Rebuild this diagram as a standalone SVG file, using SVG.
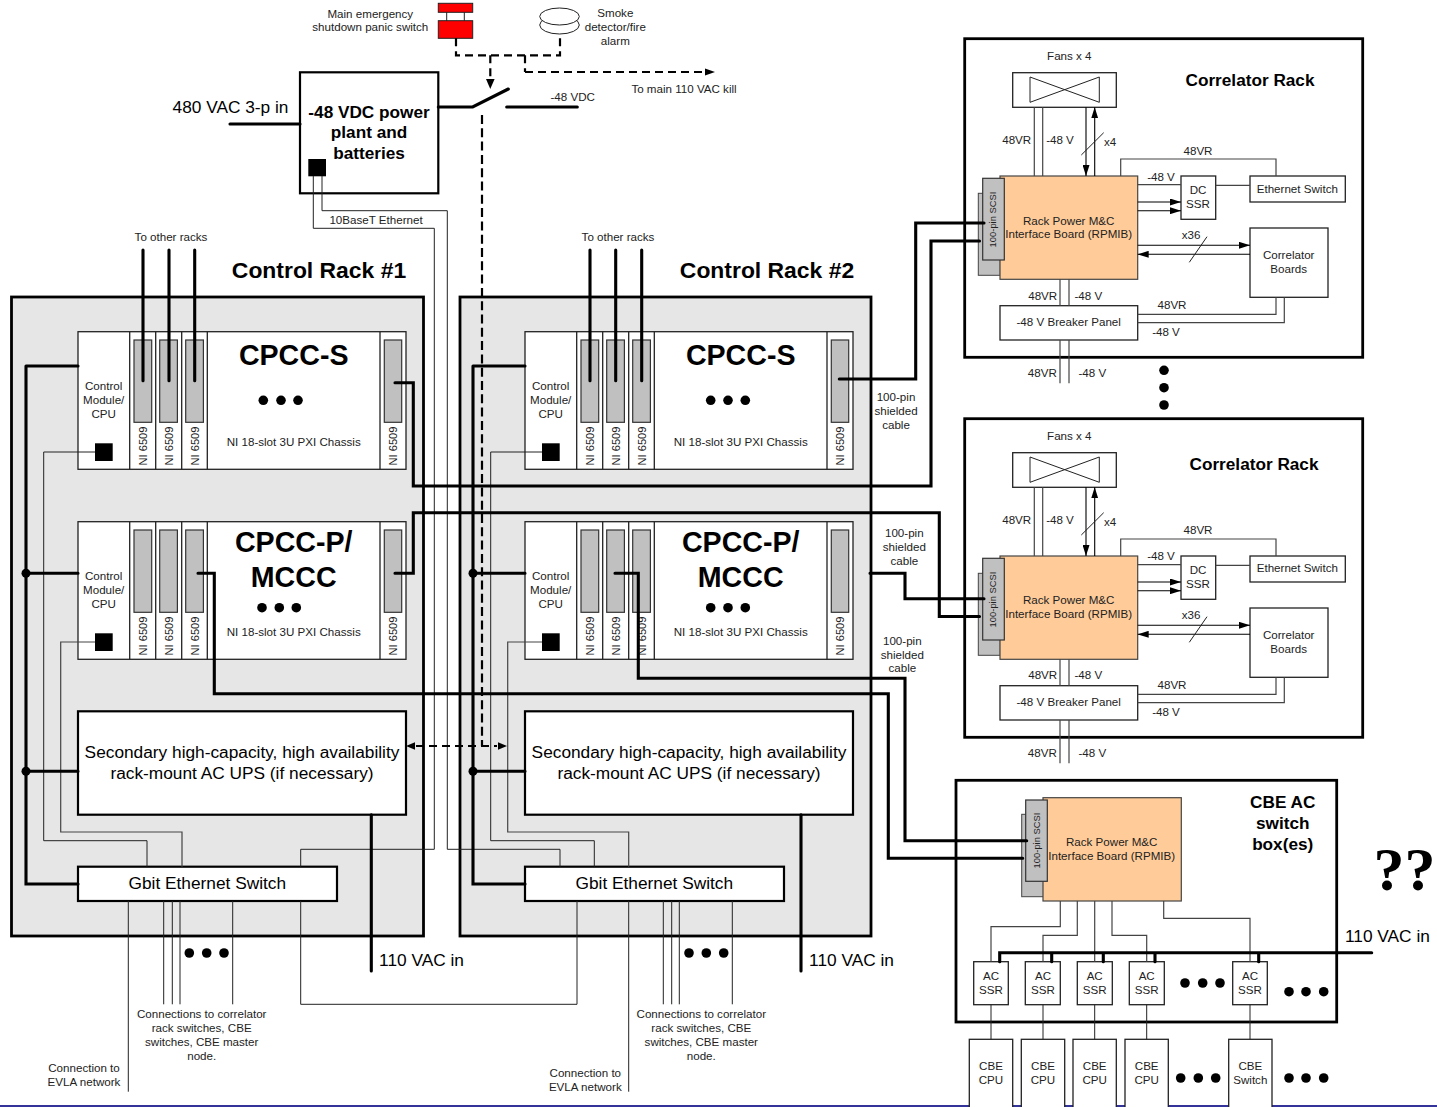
<svg xmlns="http://www.w3.org/2000/svg" width="1437" height="1107" viewBox="0 0 1437 1107">
<style>
text{font-family:"Liberation Sans",Arial,sans-serif;fill:#000;text-anchor:middle}
.s{font-size:11.6px;fill:#222}
.n{font-size:11.1px;fill:#222}
.p{font-size:9.4px;fill:#222}
.m{font-size:17.3px}
.t{font-size:17.2px;font-weight:bold}
.h{font-size:22.9px;font-weight:bold}
.c{font-size:28.6px;font-weight:bold}
.st{text-anchor:start}
.box{fill:#fff;stroke:#222;stroke-width:1.3}
.bx2{fill:#fff;stroke:#000;stroke-width:2.2}
.fr{fill:#fff;stroke:#000;stroke-width:2.8}
.rack{fill:#e6e6e6;stroke:#000;stroke-width:2.8}
.card{fill:#c0c0c0;stroke:#333;stroke-width:1.2}
.org{fill:#ffcc99;stroke:#444;stroke-width:1.2}
.w{fill:none;stroke:#222;stroke-width:1}
.g{fill:none;stroke:#444;stroke-width:1.2}
.k{fill:none;stroke:#000;stroke-width:3.1;stroke-linecap:round}
.d{fill:none;stroke:#000;stroke-width:2.2;stroke-dasharray:8 5}
.dv{fill:none;stroke:#000;stroke-width:2.2;stroke-dasharray:9 4.3}
.a{fill:none;stroke:#000;stroke-width:1.1;marker-end:url(#ar)}
</style>
<defs>
<marker id="ar" markerWidth="11" markerHeight="7" refX="11" refY="3.5" orient="auto" markerUnits="userSpaceOnUse"><path d="M0 0L11 3.5L0 7Z" fill="#000"/></marker>
</defs>
<rect width="1437" height="1107" fill="#fff"/>
<rect x="0" y="1105" width="1437" height="2" fill="#333399"/>

<g id="control-rack-1-frame"><rect class="rack" x="11.5" y="297" width="412" height="639"/></g>
<g id="control-rack-2-frame"><rect class="rack" x="460" y="297" width="411" height="639"/></g>
<g id="rack-titles"><text class="h" x="319" y="278">Control Rack #1</text><text class="h" x="767" y="278">Control Rack #2</text></g>

<g id="panic-switch">
<path class="w" d="M446.7 12V21M464.3 12V21"/>
<rect x="438.3" y="3.3" width="34.4" height="9" fill="#f00" stroke="#222"/>
<rect x="438.3" y="20.7" width="34.4" height="17.6" fill="#f00" stroke="#222"/>
<text class="s" x="370.3" y="18.3">Main emergency</text><text class="s" x="370.3" y="31">shutdown panic switch</text>
</g>
<g id="smoke-detector">
<ellipse cx="559.5" cy="25" rx="19.8" ry="9" fill="#fff" stroke="#222"/>
<ellipse cx="559.5" cy="16.5" rx="19.8" ry="8.5" fill="#fff" stroke="#222"/>
<text class="s" x="615.3" y="17">Smoke</text><text class="s" x="615.3" y="31">detector/fire</text><text class="s" x="615.3" y="45">alarm</text>
</g>
<g id="power-plant">
<rect class="bx2" x="300" y="72.3" width="138.3" height="121"/>
<rect x="308.3" y="159" width="17.7" height="17.3" fill="#000"/>
<text class="t" x="369" y="118">-48 VDC power</text><text class="t" x="369" y="138.3">plant and</text><text class="t" x="369" y="158.7">batteries</text>
</g>

<g id="chassis-s-1">
<rect class="box" x="78" y="331.7" width="328" height="137.6"/>
<path class="box" d="M129.7 331.7V469.3M155.7 331.7V469.3M181.7 331.7V469.3M207.3 331.7V469.3M380 331.7V469.3"/>
<rect class="card" x="134" y="340" width="17.7" height="82.3"/><rect class="card" x="159.7" y="340" width="17.7" height="82.3"/><rect class="card" x="185.7" y="340" width="17.7" height="82.3"/><rect class="card" x="384.3" y="340" width="17.4" height="82.3"/>
<rect x="95" y="443.3" width="17.7" height="17.7" fill="#000"/>
<text class="s" x="103.7" y="390">Control</text><text class="s" x="103.7" y="404">Module/</text><text class="s" x="103.7" y="418">CPU</text>
<text class="n" transform="translate(146.7 446) rotate(-90)">NI 6509</text><text class="n" transform="translate(172.5 446) rotate(-90)">NI 6509</text><text class="n" transform="translate(198.5 446) rotate(-90)">NI 6509</text><text class="n" transform="translate(397 446) rotate(-90)">NI 6509</text>
<text class="c" x="293.7" y="365">CPCC-S</text>
<circle cx="263.3" cy="400.3" r="4.8"/><circle cx="281" cy="400.3" r="4.8"/><circle cx="298" cy="400.3" r="4.8"/>
<text class="s" x="293.7" y="446">NI 18-slot 3U PXI Chassis</text>
</g>
<g id="chassis-p-1">
<rect class="box" x="78" y="521.7" width="328" height="137.6"/>
<path class="box" d="M129.7 521.7V659.3M155.7 521.7V659.3M181.7 521.7V659.3M207.3 521.7V659.3M380 521.7V659.3"/>
<rect class="card" x="134" y="530" width="17.7" height="82.3"/><rect class="card" x="159.7" y="530" width="17.7" height="82.3"/><rect class="card" x="185.7" y="530" width="17.7" height="82.3"/><rect class="card" x="384.3" y="530" width="17.4" height="82.3"/>
<rect x="95" y="633.3" width="17.7" height="17.7" fill="#000"/>
<text class="s" x="103.7" y="580">Control</text><text class="s" x="103.7" y="594">Module/</text><text class="s" x="103.7" y="608">CPU</text>
<text class="n" transform="translate(146.7 636) rotate(-90)">NI 6509</text><text class="n" transform="translate(172.5 636) rotate(-90)">NI 6509</text><text class="n" transform="translate(198.5 636) rotate(-90)">NI 6509</text><text class="n" transform="translate(397 636) rotate(-90)">NI 6509</text>
<text class="c" x="293.7" y="552.3">CPCC-P/</text><text class="c" x="293.7" y="587.3">MCCC</text>
<circle cx="262" cy="607.7" r="4.8"/><circle cx="279.3" cy="607.7" r="4.8"/><circle cx="296.3" cy="607.7" r="4.8"/>
<text class="s" x="293.7" y="636">NI 18-slot 3U PXI Chassis</text>
</g>
<g id="ups-1"><rect class="bx2" x="78" y="711.3" width="328" height="103.4"/><text class="m" x="242" y="758">Secondary high-capacity, high availability</text><text class="m" x="242" y="779">rack-mount AC UPS (if necessary)</text></g>
<g id="switch-1"><rect class="bx2" x="78" y="866.7" width="259" height="34.3"/><text class="m" x="207.3" y="889.3">Gbit Ethernet Switch</text></g>

<g id="chassis-s-2">
<rect class="box" x="525" y="331.7" width="328" height="137.6"/>
<path class="box" d="M576.7 331.7V469.3M602.7 331.7V469.3M628.7 331.7V469.3M654.3 331.7V469.3M827 331.7V469.3"/>
<rect class="card" x="581" y="340" width="17.7" height="82.3"/><rect class="card" x="606.7" y="340" width="17.7" height="82.3"/><rect class="card" x="632.7" y="340" width="17.7" height="82.3"/><rect class="card" x="831.3" y="340" width="17.4" height="82.3"/>
<rect x="542" y="443.3" width="17.7" height="17.7" fill="#000"/>
<text class="s" x="550.7" y="390">Control</text><text class="s" x="550.7" y="404">Module/</text><text class="s" x="550.7" y="418">CPU</text>
<text class="n" transform="translate(593.7 446) rotate(-90)">NI 6509</text><text class="n" transform="translate(619.5 446) rotate(-90)">NI 6509</text><text class="n" transform="translate(645.5 446) rotate(-90)">NI 6509</text><text class="n" transform="translate(844 446) rotate(-90)">NI 6509</text>
<text class="c" x="740.7" y="365">CPCC-S</text>
<circle cx="710.7" cy="400.3" r="4.8"/><circle cx="728" cy="400.3" r="4.8"/><circle cx="745.3" cy="400.3" r="4.8"/>
<text class="s" x="740.7" y="446">NI 18-slot 3U PXI Chassis</text>
</g>
<g id="chassis-p-2">
<rect class="box" x="525" y="521.7" width="328" height="137.6"/>
<path class="box" d="M576.7 521.7V659.3M602.7 521.7V659.3M628.7 521.7V659.3M654.3 521.7V659.3M827 521.7V659.3"/>
<rect class="card" x="581" y="530" width="17.7" height="82.3"/><rect class="card" x="606.7" y="530" width="17.7" height="82.3"/><rect class="card" x="632.7" y="530" width="17.7" height="82.3"/><rect class="card" x="831.3" y="530" width="17.4" height="82.3"/>
<rect x="542" y="633.3" width="17.7" height="17.7" fill="#000"/>
<text class="s" x="550.7" y="580">Control</text><text class="s" x="550.7" y="594">Module/</text><text class="s" x="550.7" y="608">CPU</text>
<text class="n" transform="translate(593.7 636) rotate(-90)">NI 6509</text><text class="n" transform="translate(619.5 636) rotate(-90)">NI 6509</text><text class="n" transform="translate(645.5 636) rotate(-90)">NI 6509</text><text class="n" transform="translate(844 636) rotate(-90)">NI 6509</text>
<text class="c" x="740.7" y="552.3">CPCC-P/</text><text class="c" x="740.7" y="587.3">MCCC</text>
<circle cx="710.7" cy="607.7" r="4.8"/><circle cx="728" cy="607.7" r="4.8"/><circle cx="745.3" cy="607.7" r="4.8"/>
<text class="s" x="740.7" y="636">NI 18-slot 3U PXI Chassis</text>
</g>
<g id="ups-2"><rect class="bx2" x="525" y="711.3" width="328" height="103.4"/><text class="m" x="689" y="758">Secondary high-capacity, high availability</text><text class="m" x="689" y="779">rack-mount AC UPS (if necessary)</text></g>
<g id="switch-2"><rect class="bx2" x="525" y="866.7" width="259" height="34.3"/><text class="m" x="654.3" y="889.3">Gbit Ethernet Switch</text></g>

<g id="correlator-rack-1">
<rect class="fr" x="964.7" y="38.7" width="398" height="318.6"/>
<text class="s" x="1069.3" y="60">Fans x 4</text><text class="t" x="1250" y="85.5">Correlator Rack</text>
<rect class="box" x="1012.7" y="72.7" width="103.6" height="34.6"/>
<path class="w" d="M1030 77L1099.3 102.3V77L1030 102.3Z"/>
<rect x="978.3" y="193.3" width="22" height="82" fill="#c0c0c0" stroke="#444"/>
<rect class="org" x="1000" y="176" width="137.7" height="103.3"/>
<rect class="card" x="982.7" y="178.3" width="21.6" height="81.7"/>
<text class="p" transform="translate(996 219.5) rotate(-90)">100-pin SCSI</text>
<text class="s" x="1068.7" y="225">Rack Power M&amp;C</text><text class="s" x="1068.7" y="238">Interface Board (RPMIB)</text>
<rect class="box" x="1181" y="176" width="34.7" height="43.3"/><text class="s" x="1198" y="194.3">DC</text><text class="s" x="1198" y="207.7">SSR</text>
<rect class="box" x="1250" y="176" width="95.3" height="26"/><text class="s" x="1297.3" y="193.3">Ethernet Switch</text>
<rect class="box" x="1250" y="228" width="78" height="69.3"/><text class="s" x="1288.7" y="259">Correlator</text><text class="s" x="1288.7" y="273">Boards</text>
<rect class="box" x="1000" y="305.7" width="137.7" height="34.3"/><text class="s" x="1068.7" y="326">-48 V Breaker Panel</text>
<path class="g" d="M1034.3 107.3V176M1042.7 107.3V176M1120.7 176V159H1276V176M1137.7 184.7H1181M1215.7 185.3H1250M1137.7 314.3H1276V297.3M1137.7 322.7H1284.3V297.3M1060 279.3V305.7M1069 279.3V305.7M1060 340V383.3M1069 340V383.3"/>
<path class="a" d="M1086 107.3V176"/><path class="a" d="M1094.7 176V107.3"/><path class="a" d="M1137.7 202H1181"/><path class="a" d="M1137.7 210.7H1181"/><path class="a" d="M1137.7 245.3H1250"/><path class="a" d="M1250 254.3H1137.7"/>
<path class="w" d="M1081.3 155L1103.7 132.7M1189.3 262.3L1207 236.7"/>
<text class="s" x="1016.7" y="144">48VR</text><text class="s" x="1060" y="144">-48 V</text><text class="s" x="1110" y="146">x4</text><text class="s" x="1198" y="155">48VR</text><text class="s" x="1161" y="181">-48 V</text><text class="s" x="1191" y="239">x36</text><text class="s" x="1042.7" y="300">48VR</text><text class="s" x="1088.3" y="300">-48 V</text><text class="s" x="1172" y="309">48VR</text><text class="s" x="1166" y="336">-48 V</text><text class="s" x="1042.3" y="377">48VR</text><text class="s" x="1092.3" y="377">-48 V</text>
</g>
<g id="rack-ellipsis"><circle cx="1164" cy="370.3" r="4.8"/><circle cx="1164" cy="387.7" r="4.8"/><circle cx="1164" cy="405" r="4.8"/></g>
<g id="correlator-rack-2" transform="translate(0 380)">
<rect class="fr" x="964.7" y="38.7" width="398" height="318.6"/>
<text class="s" x="1069.3" y="60">Fans x 4</text><text class="t" x="1254" y="90">Correlator Rack</text>
<rect class="box" x="1012.7" y="72.7" width="103.6" height="34.6"/>
<path class="w" d="M1030 77L1099.3 102.3V77L1030 102.3Z"/>
<rect x="978.3" y="193.3" width="22" height="82" fill="#c0c0c0" stroke="#444"/>
<rect class="org" x="1000" y="176" width="137.7" height="103.3"/>
<rect class="card" x="982.7" y="178.3" width="21.6" height="81.7"/>
<text class="p" transform="translate(996 219.5) rotate(-90)">100-pin SCSI</text>
<text class="s" x="1068.7" y="224">Rack Power M&amp;C</text><text class="s" x="1068.7" y="238">Interface Board (RPMIB)</text>
<rect class="box" x="1181" y="176" width="34.7" height="43.3"/><text class="s" x="1198" y="194.3">DC</text><text class="s" x="1198" y="207.7">SSR</text>
<rect class="box" x="1250" y="176" width="95.3" height="26"/><text class="s" x="1297.3" y="192.3">Ethernet Switch</text>
<rect class="box" x="1250" y="228" width="78" height="69.3"/><text class="s" x="1288.7" y="259">Correlator</text><text class="s" x="1288.7" y="273">Boards</text>
<rect class="box" x="1000" y="305.7" width="137.7" height="34.3"/><text class="s" x="1068.7" y="326">-48 V Breaker Panel</text>
<path class="g" d="M1034.3 107.3V176M1042.7 107.3V176M1120.7 176V159H1276V176M1137.7 184.7H1181M1215.7 185.3H1250M1137.7 314.3H1276V297.3M1137.7 322.7H1284.3V297.3M1060 279.3V305.7M1069 279.3V305.7M1060 340V383.3M1069 340V383.3"/>
<path class="a" d="M1086 107.3V176"/><path class="a" d="M1094.7 176V107.3"/><path class="a" d="M1137.7 202H1181"/><path class="a" d="M1137.7 210.7H1181"/><path class="a" d="M1137.7 245.3H1250"/><path class="a" d="M1250 254.3H1137.7"/>
<path class="w" d="M1081.3 155L1103.7 132.7M1189.3 262.3L1207 236.7"/>
<text class="s" x="1016.7" y="144">48VR</text><text class="s" x="1060" y="144">-48 V</text><text class="s" x="1110" y="146">x4</text><text class="s" x="1198" y="154">48VR</text><text class="s" x="1161" y="180">-48 V</text><text class="s" x="1191" y="239">x36</text><text class="s" x="1042.7" y="299">48VR</text><text class="s" x="1088.3" y="299">-48 V</text><text class="s" x="1172" y="309">48VR</text><text class="s" x="1166" y="336">-48 V</text><text class="s" x="1042.3" y="377">48VR</text><text class="s" x="1092.3" y="377">-48 V</text>
</g>

<g id="cbe-box">
<rect class="fr" x="956" y="780.3" width="380.7" height="241.7"/>
<rect x="1021.7" y="814.3" width="22" height="82.4" fill="#c0c0c0" stroke="#444"/>
<rect class="org" x="1043" y="797.7" width="138.3" height="103.3"/>
<rect class="card" x="1025.7" y="800" width="21.6" height="81.3"/>
<text class="p" transform="translate(1040 840.5) rotate(-90)">100-pin SCSI</text>
<text class="s" x="1111.7" y="846">Rack Power M&amp;C</text><text class="s" x="1111.7" y="860">Interface Board (RPMIB)</text>
<text class="t" x="1282.7" y="807.7">CBE AC</text><text class="t" x="1282.7" y="829">switch</text><text class="t" x="1282.7" y="850">box(es)</text>
</g>
<g id="ac-ssr-1"><rect class="box" x="973.7" y="961.7" width="34.6" height="43"/><text class="s" x="991" y="980">AC</text><text class="s" x="991" y="994">SSR</text></g>
<g id="ac-ssr-2"><rect class="box" x="1025.3" y="961.7" width="35" height="43"/><text class="s" x="1043" y="980">AC</text><text class="s" x="1043" y="994">SSR</text></g>
<g id="ac-ssr-3"><rect class="box" x="1077.3" y="961.7" width="35" height="43"/><text class="s" x="1094.7" y="980">AC</text><text class="s" x="1094.7" y="994">SSR</text></g>
<g id="ac-ssr-4"><rect class="box" x="1129.3" y="961.7" width="35" height="43"/><text class="s" x="1146.7" y="980">AC</text><text class="s" x="1146.7" y="994">SSR</text></g>
<g id="ac-ssr-5"><rect class="box" x="1232.7" y="961.7" width="34.6" height="43"/><text class="s" x="1250" y="980">AC</text><text class="s" x="1250" y="994">SSR</text></g>
<g id="cbe-cpu-1"><rect class="box" x="969.3" y="1039.3" width="43.4" height="70"/><text class="s" x="991" y="1070">CBE</text><text class="s" x="991" y="1084">CPU</text></g>
<g id="cbe-cpu-2"><rect class="box" x="1021.3" y="1039.3" width="43.4" height="70"/><text class="s" x="1043" y="1070">CBE</text><text class="s" x="1043" y="1084">CPU</text></g>
<g id="cbe-cpu-3"><rect class="box" x="1073" y="1039.3" width="43.3" height="70"/><text class="s" x="1094.7" y="1070">CBE</text><text class="s" x="1094.7" y="1084">CPU</text></g>
<g id="cbe-cpu-4"><rect class="box" x="1125" y="1039.3" width="43.3" height="70"/><text class="s" x="1146.7" y="1070">CBE</text><text class="s" x="1146.7" y="1084">CPU</text></g>
<g id="cbe-switch"><rect class="box" x="1228.7" y="1039.3" width="43.3" height="70"/><text class="s" x="1250.3" y="1070">CBE</text><text class="s" x="1250.3" y="1084">Switch</text></g>
<g id="ellipses">
<circle cx="1185" cy="983" r="4.8"/><circle cx="1202.7" cy="983" r="4.8"/><circle cx="1220" cy="983" r="4.8"/>
<circle cx="1289" cy="991.7" r="4.8"/><circle cx="1306" cy="991.7" r="4.8"/><circle cx="1323.7" cy="991.7" r="4.8"/>
<circle cx="1180.7" cy="1078" r="4.8"/><circle cx="1198.3" cy="1078" r="4.8"/><circle cx="1215.7" cy="1078" r="4.8"/>
<circle cx="1289" cy="1078" r="4.8"/><circle cx="1306" cy="1078" r="4.8"/><circle cx="1323.7" cy="1078" r="4.8"/>
<circle cx="189.3" cy="953" r="4.8"/><circle cx="206.7" cy="953" r="4.8"/><circle cx="224" cy="953" r="4.8"/>
<circle cx="689" cy="953" r="4.8"/><circle cx="706.3" cy="953" r="4.8"/><circle cx="723.7" cy="953" r="4.8"/>
</g>

<g id="connectors">
<path class="w" d="M313.3 176V228.3H434.3V849.3H300.7V866.7M322 176V210.7H447.3V849.3H560V866.7"/>
<path class="w" d="M95 452H43.7V840.7H147V866.7M542 452H490.7V840.7H594.3V866.7"/>
<path class="g" d="M95 642H60.7V832H182V866.7M542 642H507.7V832H628.7V866.7"/>
<path class="w" d="M128.3 901V1091.7M163.7 901V1004.3M172.3 901V1004.3M180 901V1004.3M232.7 901V1004.3M300.7 901V1004.3H577V901M628.7 901V1091.7M663.3 901V1004.3M671.7 901V1004.3M679.3 901V1004.3M732.3 901V1004.3"/>
<path class="k" d="M26 366V884H78M26 366H78M26 573.3H78M26 771.3H78M473 366V884H525M473 366H525M473 573.3H525M473 771.3H525"/>
<circle cx="26" cy="573.3" r="4.5"/><circle cx="26" cy="771.3" r="4.5"/><circle cx="473" cy="573.3" r="4.5"/><circle cx="473" cy="771.3" r="4.5"/>
<path class="k" d="M371.3 814.7V971M801 814.7V971"/>
<path class="k" d="M143 250V380.7M169 250V380.7M194.7 250V380.7M590 250V380.7M615.7 250V380.7M641.7 250V380.7"/>
<path class="k" d="M395 382.7H413.3V486H931V241H979.5M839.3 379H915.7V223H984M395 573.3H413.3V512.7H939.3V616.5H979.5M870 573.3H905V598.7H984M198 573.3H214.3V693.7H888.3V858.3H1022.7M615 573.3H638.3V678.3H905V840.7H1026.7"/>
<path class="k" d="M230 124H300M438.3 107H472.7L508.3 89M506.7 107H577.3"/>
<path class="d" d="M456 38.3V55.3H560V37.3M525 55.3V72"/>
<path class="d" d="M490.3 55.3V80"/><path d="M486 79L490.3 89L494.6 79Z" fill="#000"/>
<path class="d" d="M525 72H705"/><path d="M705 68.5L715 72L705 75.5Z" fill="#000"/>
<path class="dv" d="M482 115V746"/>
<path class="d" d="M416 746H497"/><path d="M415 742.3L406 746L415 749.7Z" fill="#000"/><path d="M498 742.3L507 746L498 749.7Z" fill="#000"/>
<path class="w" d="M991 1004.7V1039.3M1043 1004.7V1039.3M1094.7 1004.7V1039.3M1146.7 1004.7V1039.3M1250 1004.7V1039.3"/>
<path class="g" d="M1060.3 901V926.7H991V961.7M1077.3 901V935.3H1043V961.7M1094.7 901V961.7M1112 901V935.3H1146.7V961.7M1163.7 901V918.3H1250V961.7"/>
<path class="k" d="M1371.7 952.7H999.7V961.7M1051.7 952.7V961.7M1103.3 952.7V961.7M1155 952.7V961.7M1258.7 952.7V961.7"/>
</g>

<g id="labels">
<text class="m" x="230.5" y="113">480 VAC 3-p in</text>
<text class="s" x="572.7" y="101">-48 VDC</text>
<text class="s" x="684" y="93">To main 110 VAC kill</text>
<text class="s" x="376" y="224">10BaseT Ethernet</text>
<text class="s" x="171" y="241">To other racks</text><text class="s" x="618" y="241">To other racks</text>
<text class="s" x="896" y="401">100-pin</text><text class="s" x="896" y="415">shielded</text><text class="s" x="896" y="429">cable</text>
<text class="s" x="904.3" y="537">100-pin</text><text class="s" x="904.3" y="551">shielded</text><text class="s" x="904.3" y="565">cable</text>
<text class="s" x="902.3" y="645">100-pin</text><text class="s" x="902.3" y="659">shielded</text><text class="s" x="902.3" y="672">cable</text>
<text class="m" x="421.5" y="966">110 VAC in</text><text class="m" x="851.5" y="966">110 VAC in</text>
<text class="s" x="201.7" y="1018">Connections to correlator</text><text class="s" x="201.7" y="1032">rack switches, CBE</text><text class="s" x="201.7" y="1046">switches, CBE master</text><text class="s" x="201.7" y="1060">node.</text>
<text class="s" x="701.3" y="1018">Connections to correlator</text><text class="s" x="701.3" y="1032">rack switches, CBE</text><text class="s" x="701.3" y="1046">switches, CBE master</text><text class="s" x="701.3" y="1060">node.</text>
<text class="s" x="84" y="1072">Connection to</text><text class="s" x="84" y="1086">EVLA network</text>
<text class="s" x="585.3" y="1077">Connection to</text><text class="s" x="585.3" y="1091">EVLA network</text>
<text class="m st" x="1345" y="942">110 VAC in</text>
<text x="1404.5" y="890" style="font-family:'Liberation Serif',serif;font-weight:bold;font-size:62px">??</text>
</g>
</svg>
